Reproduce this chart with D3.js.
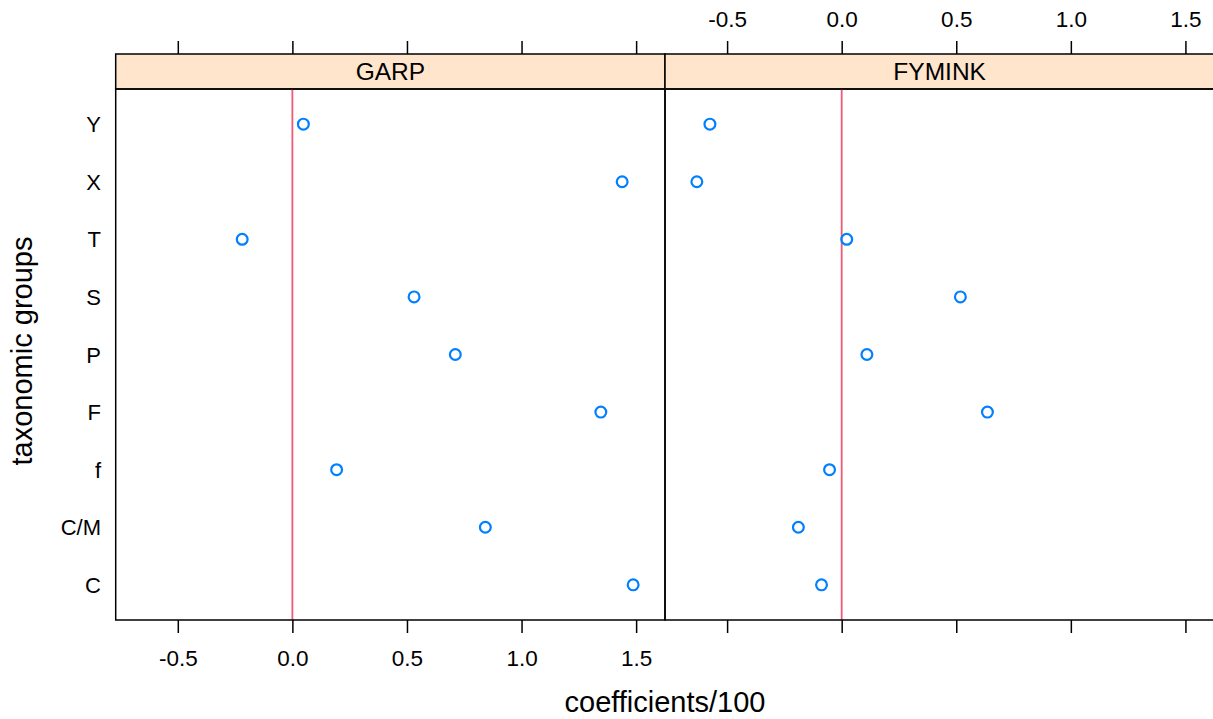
<!DOCTYPE html>
<html>
<head>
<meta charset="utf-8">
<script src="https://cdn.jsdelivr.net/npm/d3@7"></script>
<style>
  body { margin: 0; background: #fff; }
  text { font-family: "Liberation Sans", Arial, sans-serif; fill: #000; }
</style>
</head>
<body>
<div id="chart"></div>
<script>
// data
var groups = ["C", "C/M", "f", "F", "P", "S", "T", "X", "Y"];
var panels = ["GARP", "FYMINK"];
var garpValues = [1.487, 0.842, 0.193, 1.346, 0.711, 0.531, -0.219, 1.439, 0.048];
var fyminkValues = [-0.088, -0.189, -0.053, 0.636, 0.110, 0.518, 0.022, -0.632, -0.575];
var xTicks = [-0.5, 0.0, 0.5, 1.0, 1.5];
var xDomain = [-0.771, 1.626];

var W = 1213, H = 719;
var panelW = 549.3;
var left0 = 115.7;
var stripTop = 54, panelTop = 89, panelBot = 620;

var svg = d3.select("#chart").append("svg")
  .attr("width", W).attr("height", H);

var y = d3.scalePoint().domain(groups).range([panelBot, panelTop]).padding(0.61);

var seriesByPanel = [garpValues, fyminkValues];

// plain hyphen for negatives, like R does
var fmt = function(d) { return d.toFixed(1); };
var blank = function() { return ""; };

panels.forEach(function(name, i) {
  var x0 = left0 + i * panelW;
  var x = d3.scaleLinear().domain(xDomain).range([x0, x0 + panelW]);
  var g = svg.append("g");

  // strip
  g.append("rect")
    .attr("x", x0).attr("y", stripTop)
    .attr("width", panelW).attr("height", panelTop - stripTop)
    .attr("fill", "#ffe5cc").attr("stroke", "#000").attr("stroke-width", 1.5);
  g.append("text")
    .attr("x", x0 + panelW / 2).attr("y", (stripTop + panelTop) / 2 + 8.8)
    .attr("text-anchor", "middle").style("font-size", "24.5px")
    .text(name);

  // reference line at zero
  g.append("line")
    .attr("x1", x(0)).attr("x2", x(0))
    .attr("y1", panelTop).attr("y2", panelBot)
    .attr("stroke", "#ee5a78").attr("stroke-width", 1.8);

  // points
  g.selectAll("circle")
    .data(seriesByPanel[i].map(function(v, k) { return { g: groups[k], v: v }; }))
    .enter().append("circle")
    .attr("cx", function(d) { return x(d.v); })
    .attr("cy", function(d) { return y(d.g); })
    .attr("r", 5.4)
    .attr("fill", "none").attr("stroke", "#0080ff").attr("stroke-width", 2.2);

  // panel frame
  g.append("rect")
    .attr("x", x0).attr("y", panelTop)
    .attr("width", panelW).attr("height", panelBot - panelTop)
    .attr("fill", "none").attr("stroke", "#000").attr("stroke-width", 1.5);

  // axes: labels bottom on first panel, top on second
  var bottom = d3.axisBottom(x).tickValues(xTicks).tickSize(13).tickPadding(17)
    .tickFormat(i === 0 ? fmt : blank);
  var top = d3.axisTop(x).tickValues(xTicks).tickSize(13).tickPadding(14)
    .tickFormat(i === 1 ? fmt : blank);

  var gb = g.append("g").attr("transform", "translate(0," + panelBot + ")").call(bottom);
  var gt = g.append("g").attr("transform", "translate(0," + stripTop + ")").call(top);
  [gb, gt].forEach(function(ax) {
    ax.select(".domain").remove();
    ax.selectAll("line").attr("stroke", "#000").attr("stroke-width", 1.5);
    ax.selectAll("text")
      .style("font-family", "'Liberation Sans', Arial, sans-serif")
      .style("font-size", "22.5px").attr("fill", "#000");
  });
});

// y axis labels (left panel only)
svg.append("g").selectAll("text")
  .data(groups).enter().append("text")
  .attr("x", 101).attr("y", function(d) { return y(d) + 8; })
  .attr("text-anchor", "end").style("font-size", "22px")
  .text(function(d) { return d; });

// axis titles
svg.append("text")
  .attr("x", left0 + panelW).attr("y", 712)
  .attr("text-anchor", "middle").style("font-size", "29px")
  .text("coefficients/100");

svg.append("text")
  .attr("transform", "translate(32," + 351 + ") rotate(-90)")
  .attr("text-anchor", "middle").style("font-size", "29px")
  .text("taxonomic groups");
</script>
</body>
</html>
